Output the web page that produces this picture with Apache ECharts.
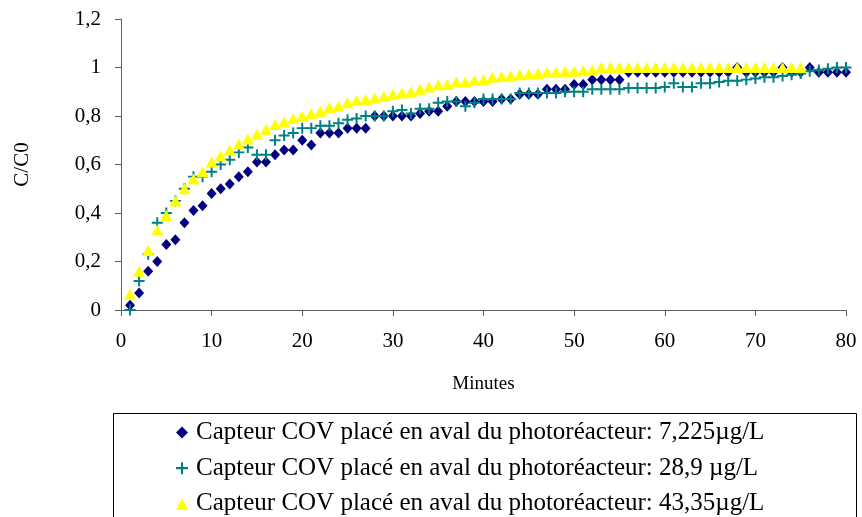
<!DOCTYPE html>
<html>
<head>
<meta charset="utf-8">
<script src="https://cdn.jsdelivr.net/npm/echarts@6/dist/echarts.min.js"></script>
<style>
  html, body { margin: 0; padding: 0; background: #fff; }
  #chart { width: 862px; height: 517px; }
</style>
</head>
<body>
<div id="chart"></div>
<script>
// Time in minutes (one reading per minute)
const minutes = [];
for (let m = 1; m <= 80; m++) minutes.push(m);

// C/C0 readings for the sensor placed downstream of the photoreactor
const conc7225 = [
  0.02, 0.07, 0.16, 0.20, 0.27, 0.29, 0.36, 0.41, 0.43, 0.48,
  0.50, 0.52, 0.55, 0.57, 0.61, 0.61, 0.64, 0.66, 0.66, 0.70,
  0.68, 0.73, 0.73, 0.73, 0.75, 0.75, 0.75, 0.80, 0.80, 0.80,
  0.80, 0.80, 0.81, 0.82, 0.82, 0.84, 0.86, 0.86, 0.86, 0.86,
  0.86, 0.87, 0.87, 0.89, 0.89, 0.89, 0.91, 0.91, 0.91, 0.93,
  0.93, 0.95, 0.95, 0.95, 0.95, 0.98, 0.98, 0.98, 0.98, 0.98,
  0.98, 0.98, 0.98, 0.98, 0.98, 0.98, 0.98, 1.00, 0.98, 0.98,
  0.98, 0.98, 1.00, 0.98, 0.98, 1.00, 0.98, 0.98, 0.98, 0.98
];

const conc289 = [
  0.00, 0.12, 0.23, 0.36, 0.40, 0.45, 0.50, 0.55, 0.55, 0.57,
  0.60, 0.62, 0.65, 0.67, 0.64, 0.64, 0.70, 0.72, 0.73, 0.75,
  0.75, 0.76, 0.76, 0.77, 0.785, 0.79, 0.80, 0.80, 0.80, 0.82,
  0.825, 0.81, 0.83, 0.83, 0.855, 0.86, 0.86, 0.84, 0.855, 0.87,
  0.87, 0.87, 0.87, 0.895, 0.895, 0.895, 0.895, 0.895, 0.90, 0.90,
  0.90, 0.91, 0.91, 0.91, 0.91, 0.915, 0.915, 0.915, 0.915, 0.92,
  0.935, 0.92, 0.92, 0.935, 0.935, 0.94, 0.945, 0.945, 0.95, 0.955,
  0.96, 0.96, 0.965, 0.97, 0.975, 0.985, 0.99, 0.995, 1.00, 1.00
];

const conc4335 = [
  0.065, 0.16, 0.245, 0.33, 0.39, 0.45, 0.50, 0.54, 0.57, 0.61,
  0.635, 0.66, 0.685, 0.705, 0.725, 0.745, 0.765, 0.775, 0.79, 0.80,
  0.81, 0.82, 0.835, 0.84, 0.855, 0.865, 0.868, 0.874, 0.88, 0.89,
  0.895, 0.90, 0.91, 0.92, 0.928, 0.93, 0.94, 0.94, 0.946, 0.95,
  0.96, 0.963, 0.965, 0.97, 0.973, 0.975, 0.98, 0.98, 0.983, 0.985,
  0.987, 0.99, 1.00, 1.00, 1.00, 1.00, 1.00, 1.00, 1.00, 1.00,
  1.00, 1.00, 1.00, 1.00, 1.00, 1.00, 1.00, 1.00, 1.00, 1.00,
  1.00, 1.00, 1.00, 1.00, 1.00
];

const seriesNames = [
  'Capteur COV placé en aval du photoréacteur: 7,225µg/L',
  'Capteur COV placé en aval du photoréacteur: 28,9 µg/L',
  'Capteur COV placé en aval du photoréacteur: 43,35µg/L'
];

const pairs = (vals) => vals.map((v, i) => [minutes[i], v]);

const PLUS = 'path://M0,4.1 H4.1 V0 H5.9 V4.1 H10 V5.9 H5.9 V10 H4.1 V5.9 H0 Z';
const FONT = '"Liberation Serif", "Times New Roman", serif';
const AXIS_COLOR = '#606060';

const chart = echarts.init(document.getElementById('chart'), null, { renderer: 'canvas' });

chart.setOption({
  animation: false,
  backgroundColor: '#ffffff',
  textStyle: { fontFamily: FONT, color: '#000' },
  grid: { left: 121, right: 16, top: 19, bottom: 207, containLabel: false },
  xAxis: {
    type: 'value',
    min: 0, max: 80, interval: 10,
    name: 'Minutes',
    nameLocation: 'middle',
    nameGap: 65,
    nameTextStyle: { fontFamily: FONT, fontSize: 19, color: '#000' },
    axisLine: { show: true, lineStyle: { color: AXIS_COLOR, width: 1 } },
    axisTick: { show: true, inside: false, length: 6, lineStyle: { color: AXIS_COLOR } },
    axisLabel: { fontFamily: FONT, fontSize: 21, color: '#000', margin: 21 },
    splitLine: { show: false }
  },
  yAxis: {
    type: 'value',
    min: 0, max: 1.2, interval: 0.2,
    name: 'C/C0',
    nameLocation: 'middle',
    nameRotate: 90,
    nameGap: 88,
    nameTextStyle: { fontFamily: FONT, fontSize: 21, color: '#000' },
    axisLine: { show: true, lineStyle: { color: AXIS_COLOR, width: 1 } },
    axisTick: { show: true, inside: false, length: 6, lineStyle: { color: AXIS_COLOR } },
    axisLabel: {
      fontFamily: FONT, fontSize: 21, color: '#000', margin: 20,
      formatter: (v) => String(Math.round(v * 10) / 10).replace('.', ',')
    },
    splitLine: { show: false }
  },
  legend: {
    orient: 'vertical',
    left: 176,
    top: 420,
    height: 130,
    padding: 0,
    itemWidth: 12,
    itemHeight: 12,
    itemGap: 10.7,
    textStyle: { fontFamily: FONT, fontSize: 25, color: '#000', lineHeight: 25, padding: [0, 0, 0, 3] },
    data: [
      { name: seriesNames[0], icon: 'diamond' },
      { name: seriesNames[1], icon: PLUS },
      { name: seriesNames[2], icon: 'triangle' }
    ]
  },
  graphic: [{
    type: 'rect',
    silent: true,
    shape: { x: 113.5, y: 413.5, width: 743, height: 200 },
    style: { fill: 'none', stroke: '#000', lineWidth: 1 }
  }],
  series: [
    {
      name: seriesNames[0],
      type: 'scatter',
      data: pairs(conc7225),
      symbol: 'diamond',
      symbolSize: [10, 11],
      itemStyle: { color: '#000080', opacity: 1 }
    },
    {
      name: seriesNames[1],
      type: 'scatter',
      data: pairs(conc289),
      symbol: PLUS,
      symbolSize: 11,
      itemStyle: { color: '#008080', opacity: 1 }
    },
    {
      name: seriesNames[2],
      type: 'scatter',
      data: pairs(conc4335),
      symbol: 'triangle',
      symbolSize: [12, 11],
      itemStyle: { color: '#ffff00', opacity: 1 }
    }
  ]
});
</script>
</body>
</html>
